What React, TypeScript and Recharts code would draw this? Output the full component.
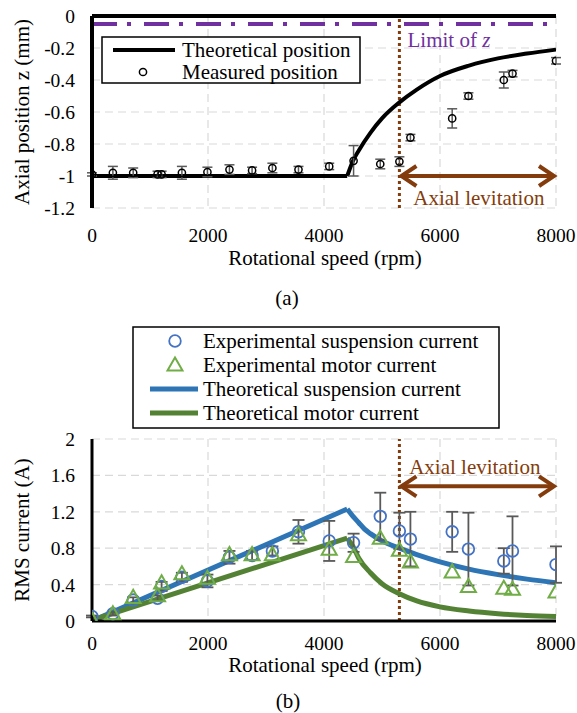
import React from 'react';
import {
  ComposedChart,
  Line,
  Scatter,
  XAxis,
  YAxis,
  CartesianGrid,
  ReferenceLine,
  ReferenceDot,
  ErrorBar,
} from 'recharts';

const FONT = '"Liberation Serif", "Times New Roman", serif';
const BROWN = '#843C0C';
const PURPLE = '#7030A0';
const GRID = '#d9d9d9';
const ERR = '#595959';
const BLUE_LINE = '#2E75B6';
const GREEN_LINE = '#548235';
const BLUE_MARK = '#4472C4';
const GREEN_MARK = '#70AD47';

// ---------- shared ----------
const speedTicks = [0, 2000, 4000, 6000, 8000];
const speeds = [0, 360, 710, 1130, 1200, 1550, 1990, 2370, 2760, 3110, 3560, 4090, 4510, 4970, 5300, 5490, 6210, 6490, 7100, 7250, 8000];
const levitationStart = 5300;

// ---------- (a) axial position ----------
const zTicks = [-1.2, -1, -0.8, -0.6, -0.4, -0.2, 0];
const zLimit = -0.05;
const measuredZ = [-0.99, -0.98, -0.98, -0.99, -0.99, -0.98, -0.975, -0.96, -0.965, -0.95, -0.96, -0.94, -0.905, -0.925, -0.91, -0.76, -0.64, -0.5, -0.4, -0.36, -0.28];
const measuredZErr = [0.01, 0.04, 0.03, 0.02, 0.02, 0.04, 0.03, 0.03, 0.02, 0.03, 0.02, 0.02, 0.095, 0.03, 0.03, 0.02, 0.06, 0.02, 0.05, 0.02, 0.02];
const theoFlatSpeed = [0, 4400];
const theoFlatZ = [-1, -1];
const theoRiseSpeed = [4400, 4500, 4600, 4800, 5000, 5300, 5600, 6000, 6500, 7000, 7500, 8000];
const theoRiseZ = [-1, -0.905, -0.84, -0.73, -0.64, -0.54, -0.46, -0.375, -0.31, -0.265, -0.235, -0.21];

// ---------- (b) RMS current ----------
const iTicks = [0, 0.4, 0.8, 1.2, 1.6, 2];
const suspCurrent = [0.05, 0.08, 0.23, 0.25, 0.38, 0.48, 0.44, 0.7, 0.72, 0.77, 0.98, 0.88, 0.86, 1.15, 0.99, 0.9, 0.98, 0.79, 0.66, 0.77, 0.62];
const suspErr = [0.01, 0.02, 0.03, 0.03, 0.05, 0.05, 0.07, 0.07, 0.05, 0.05, 0.13, 0.22, 0.1, 0.26, 0.2, 0.3, 0.22, 0.4, 0.14, 0.38, 0.2];
const motorCurrent = [0.01, 0.08, 0.26, 0.28, 0.42, 0.52, 0.47, 0.73, 0.73, 0.73, 0.95, 0.79, 0.71, 0.91, 0.78, 0.65, 0.54, 0.38, 0.36, 0.35, 0.32];
const theoSuspRiseSpeed = [0, 4400];
const theoSuspRise = [0, 1.23];
const theoSuspFallSpeed = [4400, 4500, 4600, 4700, 4800, 5000, 5300, 5600, 6000, 6500, 7000, 7500, 8000];
const theoSuspFall = [1.23, 1.15, 1.08, 1.01, 0.96, 0.88, 0.8, 0.73, 0.65, 0.57, 0.51, 0.46, 0.42];
const theoMotorRiseSpeed = [0, 4400];
const theoMotorRise = [0.01, 0.91];
const theoMotorFallSpeed = [4400, 4500, 4600, 4800, 5000, 5300, 5600, 6000, 6500, 7000, 7500, 8000];
const theoMotorFall = [0.91, 0.82, 0.69, 0.53, 0.41, 0.3, 0.22, 0.155, 0.11, 0.08, 0.06, 0.05];

const zip = (xs: number[], ys: number[], es?: number[]) =>
  xs.map((x, i) => (es ? { x, y: ys[i], e: es[i] } : { x, y: ys[i] }));

const measuredPos = zip(speeds, measuredZ, measuredZErr);
const flatPos = zip(theoFlatSpeed, theoFlatZ);
const risePos = zip(theoRiseSpeed, theoRiseZ);
const suspPts = zip(speeds, suspCurrent, suspErr);
const motorPts = zip(speeds, motorCurrent);
const suspRise = zip(theoSuspRiseSpeed, theoSuspRise);
const suspFall = zip(theoSuspFallSpeed, theoSuspFall);
const motorRise = zip(theoMotorRiseSpeed, theoMotorRise);
const motorFall = zip(theoMotorFallSpeed, theoMotorFall);

const tickStyle = { fontSize: 19.5, fill: '#000', fontFamily: FONT };

const Arrow = (p: any) => {
  const { x1, y1, x2, y2 } = p;
  const h = 17;
  const w = 10;
  return (
    <g stroke={BROWN} strokeWidth={4} fill="none">
      <line x1={x1 + 2} y1={y1} x2={x2 - 2} y2={y2} />
      <polyline points={`${x1 + h},${y1 - w} ${x1 + 2},${y1} ${x1 + h},${y1 + w}`} />
      <polyline points={`${x2 - h},${y2 - w} ${x2 - 2},${y2} ${x2 - h},${y2 + w}`} />
    </g>
  );
};

const OpenCircle = (r: number, color: string, sw: number) => (p: any) =>
  <circle cx={p.cx} cy={p.cy} r={r} fill="none" stroke={color} strokeWidth={sw} />;

const OpenTriangle = (p: any) => {
  const { cx, cy } = p;
  const s = 7.5;
  return (
    <path
      d={`M${cx},${cy - s} L${cx + s},${cy + s * 0.75} L${cx - s},${cy + s * 0.75} Z`}
      fill="none"
      stroke={GREEN_MARK}
      strokeWidth={2}
    />
  );
};

const TextAt = (content: React.ReactNode, color: string, anchor: 'start' | 'middle' | 'end') => (p: any) =>
  (
    <text x={p.cx} y={p.cy} fill={color} fontSize={21} fontFamily={FONT} textAnchor={anchor} dominantBaseline="central">
      {content}
    </text>
  );

const abs = (left: number, top: number, rotate = false): React.CSSProperties => ({
  position: 'absolute',
  left,
  top,
  transform: `translate(-50%, -50%)${rotate ? ' rotate(-90deg)' : ''}`,
  whiteSpace: 'nowrap',
  fontFamily: FONT,
  fontSize: 21,
  lineHeight: 1,
  color: '#000',
});

export default function App() {
  return (
    <div style={{ position: 'absolute', left: 0, top: 0, width: 577, height: 713, background: '#fff', fontFamily: FONT, overflow: 'hidden' }}>
      <div style={{ position: 'absolute', left: 0, top: 0 }}>
        <ComposedChart width={577} height={310} margin={{ top: 16, right: 21, bottom: 42, left: 0 }}>
          <CartesianGrid stroke={GRID} strokeDasharray="8 5" strokeWidth={1.2} />
          <XAxis
            type="number"
            dataKey="x"
            domain={[0, 8000]}
            ticks={speedTicks}
            interval={0}
            allowDataOverflow
            axisLine={false}
            tickLine={false}
            tickSize={0}
            tickMargin={20}
            tick={tickStyle}
            height={60}
          />
          <YAxis
            type="number"
            domain={[-1.2, 0]}
            ticks={zTicks}
            interval={0}
            allowDataOverflow
            axisLine={{ stroke: '#000', strokeWidth: 4 }}
            tickLine={false}
            tickSize={0}
            tickMargin={17}
            tick={tickStyle}
            width={92}
          />
          <ReferenceLine y={0} stroke="#000" strokeWidth={4} />
          <ReferenceLine y={zLimit} stroke={PURPLE} strokeWidth={4} strokeDasharray="25 10 4 13" />
          <ReferenceLine x={levitationStart} stroke={BROWN} strokeWidth={3} strokeDasharray="3 3" />
          <ReferenceLine
            segment={[
              { x: levitationStart, y: -1 },
              { x: 8000, y: -1 },
            ]}
            shape={Arrow}
          />
          <Line data={flatPos} dataKey="y" type="linear" stroke="#000" strokeWidth={4} dot={false} isAnimationActive={false} />
          <Line data={risePos} dataKey="y" type="monotone" stroke="#000" strokeWidth={4} dot={false} isAnimationActive={false} />
          <Scatter data={measuredPos} dataKey="y" shape={OpenCircle(3.6, '#000', 1.5)} isAnimationActive={false}>
            <ErrorBar dataKey="e" direction="y" width={5} stroke={ERR} strokeWidth={1.5} />
          </Scatter>
          <ReferenceDot
            x={5440}
            y={-0.15}
            r={0}
            shape={TextAt(
              <>
                <tspan>Limit of </tspan>
                <tspan fontStyle="italic">z</tspan>
              </>,
              PURPLE,
              'start'
            )}
          />
          <ReferenceDot x={6670} y={-1.135} r={0} shape={TextAt('Axial levitation', BROWN, 'middle')} />
        </ComposedChart>
      </div>

      <div style={{ position: 'absolute', left: 0, top: 310 }}>
        <ComposedChart width={577} height={403} margin={{ top: 129, right: 21, bottom: 62, left: 0 }}>
          <CartesianGrid stroke={GRID} strokeDasharray="8 5" strokeWidth={1.2} />
          <XAxis
            type="number"
            dataKey="x"
            domain={[0, 8000]}
            ticks={speedTicks}
            interval={0}
            allowDataOverflow
            axisLine={{ stroke: '#000', strokeWidth: 3 }}
            tickLine={false}
            tickSize={0}
            tickMargin={15}
            tick={tickStyle}
            height={30}
          />
          <YAxis
            type="number"
            domain={[0, 2]}
            ticks={iTicks}
            interval={0}
            allowDataOverflow
            axisLine={{ stroke: '#000', strokeWidth: 3 }}
            tickLine={false}
            tickSize={0}
            tickMargin={17}
            tick={tickStyle}
            width={92}
          />
          <ReferenceLine x={levitationStart} stroke={BROWN} strokeWidth={3} strokeDasharray="3 3" />
          <ReferenceLine
            segment={[
              { x: levitationStart, y: 1.48 },
              { x: 8000, y: 1.48 },
            ]}
            shape={Arrow}
          />
          <Line data={suspRise} dataKey="y" type="linear" stroke={BLUE_LINE} strokeWidth={5} dot={false} isAnimationActive={false} />
          <Line data={suspFall} dataKey="y" type="monotone" stroke={BLUE_LINE} strokeWidth={5} dot={false} isAnimationActive={false} />
          <Line data={motorRise} dataKey="y" type="linear" stroke={GREEN_LINE} strokeWidth={5} dot={false} isAnimationActive={false} />
          <Line data={motorFall} dataKey="y" type="monotone" stroke={GREEN_LINE} strokeWidth={5} dot={false} isAnimationActive={false} />
          <Scatter data={suspPts} dataKey="y" shape={OpenCircle(5.8, BLUE_MARK, 1.8)} isAnimationActive={false}>
            <ErrorBar dataKey="e" direction="y" width={6} stroke={ERR} strokeWidth={1.8} />
          </Scatter>
          <Scatter data={motorPts} dataKey="y" shape={OpenTriangle} isAnimationActive={false} />
          <ReferenceDot x={6600} y={1.69} r={0} shape={TextAt('Axial levitation', BROWN, 'middle')} />
        </ComposedChart>
      </div>

      <svg width={577} height={713} style={{ position: 'absolute', left: 0, top: 0, pointerEvents: 'none' }}>
        <g fontFamily={FONT} fontSize={21} fill="#000">
          {/* legend (a) */}
          <rect x={102} y={37} width={258} height={46} fill="#fff" stroke="#000" strokeWidth={1.5} />
          <line x1={113} y1={50} x2={175} y2={50} stroke="#000" strokeWidth={4} />
          <circle cx={143} cy={72} r={3.6} fill="none" stroke="#000" strokeWidth={1.5} />
          <text x={182} y={50} dominantBaseline="central">Theoretical position</text>
          <text x={182} y={72} dominantBaseline="central">Measured position</text>
          {/* legend (b) */}
          <rect x={133} y={327} width={366} height={101} fill="#fff" stroke="#000" strokeWidth={1.5} />
          <circle cx={175} cy={341} r={5.8} fill="none" stroke={BLUE_MARK} strokeWidth={1.8} />
          <path d="M175,357.5 L182.5,370.6 L167.5,370.6 Z" fill="none" stroke={GREEN_MARK} strokeWidth={2} />
          <line x1={150} y1={389} x2={198} y2={389} stroke={BLUE_LINE} strokeWidth={5} />
          <line x1={150} y1={413} x2={198} y2={413} stroke={GREEN_LINE} strokeWidth={5} />
          <text x={203} y={341} dominantBaseline="central">Experimental suspension current</text>
          <text x={203} y={365} dominantBaseline="central">Experimental motor current</text>
          <text x={203} y={389} dominantBaseline="central">Theoretical suspension current</text>
          <text x={203} y={413} dominantBaseline="central">Theoretical motor current</text>
        </g>
      </svg>

      <div style={abs(22, 112, true)}>Axial position z (mm)</div>
      <div style={abs(325, 258)}>Rotational speed (rpm)</div>
      <div style={abs(287, 298)}>(a)</div>
      <div style={abs(22, 530, true)}>RMS current (A)</div>
      <div style={abs(325, 665)}>Rotational speed (rpm)</div>
      <div style={abs(288, 701)}>(b)</div>
    </div>
  );
}
